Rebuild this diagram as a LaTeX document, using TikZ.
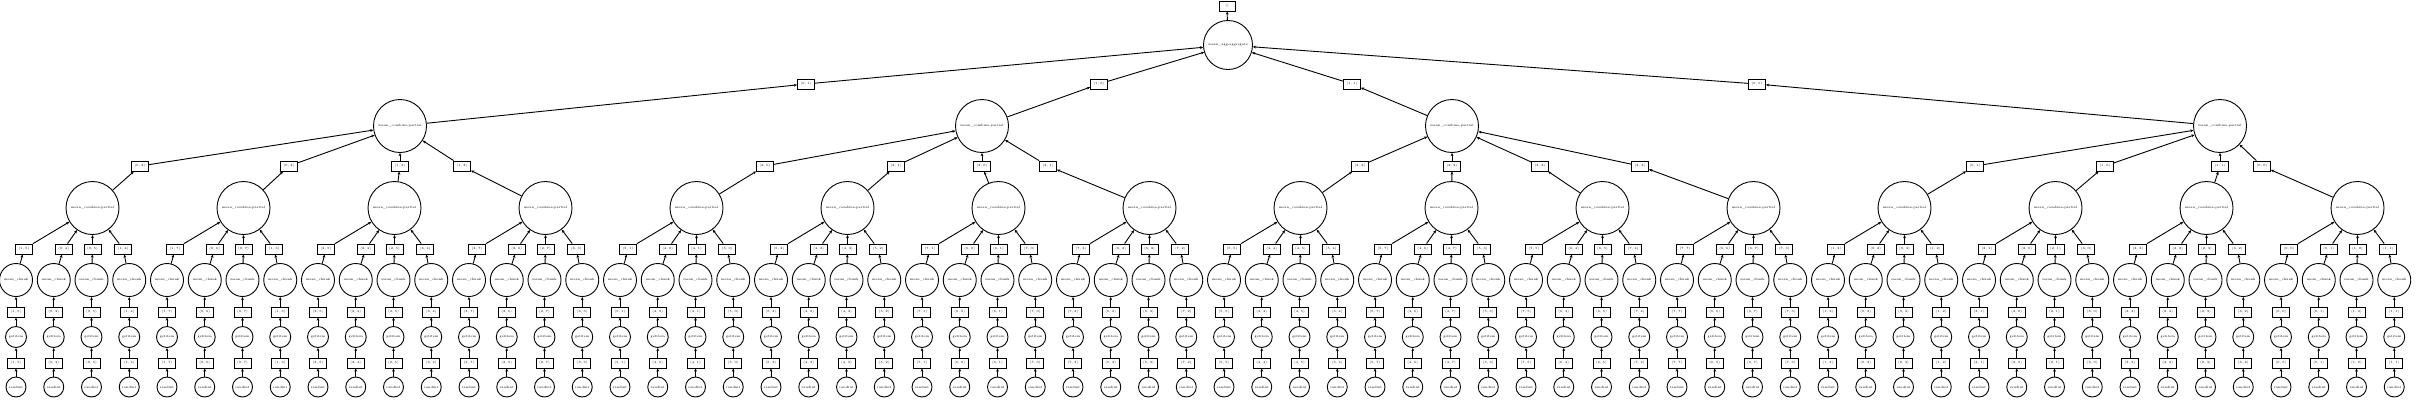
\documentclass[tikz,border=0pt]{standalone}
\usetikzlibrary{arrows.meta}
\begin{document}
\begin{tikzpicture}[x=1pt,y=-1pt,
  every node/.style={font=\fontsize{3.2}{4}\selectfont},
  box/.style={draw, line width=0.9pt, rectangle, minimum width=17pt, minimum height=10pt, inner sep=0pt},
  circ/.style={draw, line width=0.9pt, circle, inner sep=0pt},
  aggc/.style={circ, minimum size=49pt},
  combc/.style={circ, minimum size=53pt},
  chunkc/.style={circ, minimum size=33pt},
  getc/.style={circ, minimum size=21pt},
  randc/.style={circ, minimum size=20pt},
  arr/.style={-{Stealth[length=3.2pt,width=2.8pt]}, line width=0.9pt}]
\useasboundingbox (0,0) rectangle (2417,400);
\node[box, minimum width=16pt] (root) at (1227,6) {()};
\node[aggc] (agg) at (1228,45) {mean\_agg-aggregate};
\draw[arr] (agg) -- (root);
\foreach \t/\bx/\cx/\ta/\tb in {0/806/400/0/1, 1/1099/982/1/0, 2/1352/1452/1/1, 3/1757/2220/0/0} {
  \node[box] (b1-\t) at (\bx,84) {(\ta, \tb)};
  \node[combc] (c1-\t) at (\cx,126) {mean\_combine-partial};
  \draw[arr] (c1-\t) -- (b1-\t);
  \draw[arr] (b1-\t) -- (agg);
}
\foreach \t/\s/\bx/\a/\b/\nat in {
  0/0/140/0/2/0, 0/1/289/0/3/0, 0/2/400/1/2/0, 0/3/462/1/3/0,
  1/0/765/2/0/0, 1/1/896/2/1/0, 1/2/982/3/0/0, 1/3/1048/3/1/0,
  2/0/1360/2/2/0, 2/1/1452/2/3/0, 2/2/1540/3/2/0, 2/3/1640/3/3/0,
  3/0/1975/0/1/0, 3/1/2105/1/0/0, 3/2/2220/1/1/0, 3/3/2262/0/0/1} {
  \pgfmathtruncatemacro{\g}{4*\t+\s}
  \pgfmathsetmacro{\gx}{16+37.75*(4*\g+2)+1}
  \node[box] (b2-\g) at (\bx,166) {(\a, \b)};
  \node[combc] (c2-\g) at (\gx,208) {mean\_combine-partial};
  \draw[arr] (c2-\g) -- (b2-\g);
  \draw[arr] (b2-\g) -- (c1-\t);
  \foreach \l in {0,1,2,3} {
    \pgfmathtruncatemacro{\k}{4*\g+\l}
    \ifnum\nat=1
      \pgfmathtruncatemacro{\ii}{2*\a+{0,0,1,1}[\l]}
      \pgfmathtruncatemacro{\jj}{2*\b+{0,1,0,1}[\l]}
    \else
      \pgfmathtruncatemacro{\ii}{2*\a+{1,0,0,1}[\l]}
      \pgfmathtruncatemacro{\jj}{2*\b+{1,0,1,0}[\l]}
    \fi
    \pgfmathsetmacro{\kx}{16+37.75*\k}
    \pgfmathsetmacro{\ox}{\kx+{8,10,1,-6}[\l]}
    \node[box] (b3-\k) at (\ox,249) {(\ii, \jj)};
    \node[chunkc] (m-\k) at (\kx,280) {mean\_chunk};
    \node[box] (b4-\k) at (\kx,312) {(\ii, \jj)};
    \node[getc] (gi-\k) at (\kx,337) {getitem};
    \node[box] (b5-\k) at (\kx,363) {(\ii, \jj)};
    \node[randc] (rn-\k) at (\kx,387) {randint};
    \draw[arr] (rn-\k) -- (b5-\k);
    \draw[arr] (b5-\k) -- (gi-\k);
    \draw[arr] (gi-\k) -- (b4-\k);
    \draw[arr] (b4-\k) -- (m-\k);
    \draw[arr] (m-\k) -- (b3-\k);
    \draw[arr] (b3-\k) -- (c2-\g);
  }
}
\end{tikzpicture}
\end{document}
